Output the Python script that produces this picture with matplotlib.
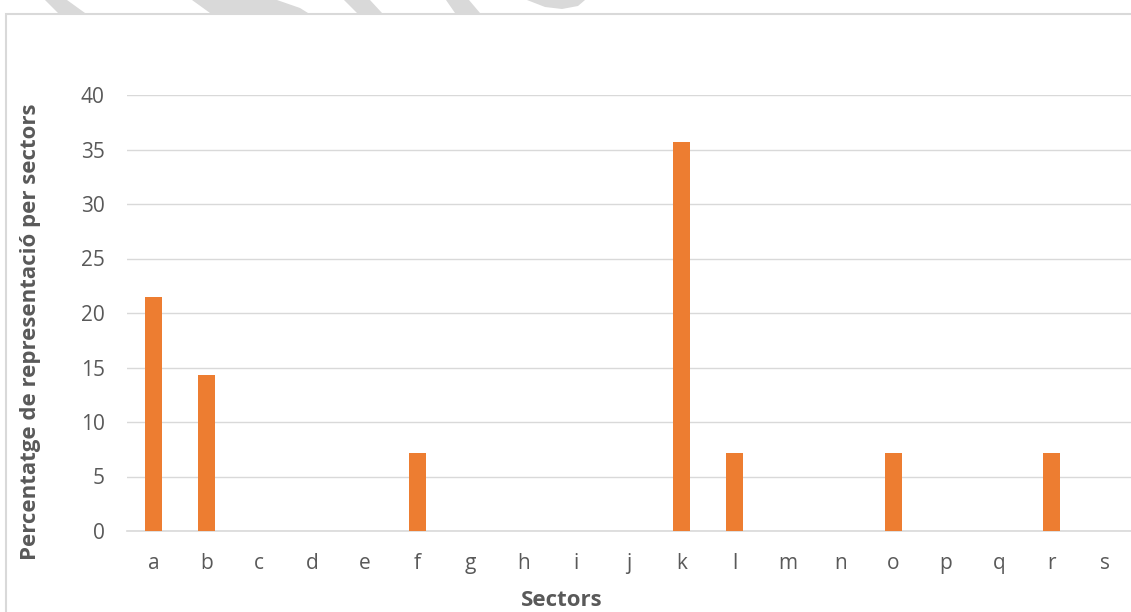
import matplotlib.pyplot as plt
from matplotlib.patches import Polygon, Rectangle

sectors = ['a', 'b', 'c', 'd', 'e', 'f', 'g', 'h', 'i', 'j',
           'k', 'l', 'm', 'n', 'o', 'p', 'q', 'r', 's']
percentatge = [21.43, 14.29, 0, 0, 0, 7.14, 0, 0, 0, 0,
               35.71, 7.14, 0, 0, 7.14, 0, 0, 7.14, 0]

plt.rcParams['font.family'] = ['Open Sans', 'DejaVu Sans']

W, H = 1131, 612
fig = plt.figure(figsize=(W / 100, H / 100), dpi=100)

# marc del gràfic (surt per la dreta i per baix)
fig.patches.append(Rectangle((6 / W, -0.1), 1.2, (H - 14) / H + 0.1, transform=fig.transFigure,
                             fill=False, ec='#d9d9d9', lw=1.5))

# trossos grisos de la marca d'aigua a dalt
def px(pts):
    return [(x / W, 1 - y / H) for x, y in pts]

for pts in [
    [(45, 0), (67, 0), (85, 13), (58, 13)],
    [(192, 0), (277, 0), (300, 8), (308, 13), (210, 13)],
    [(344, 0), (370, 0), (382, 13), (357, 13)],
    [(446, 0), (469, 0), (480, 13), (455, 13)],
    [(527, 0), (585, 0), (578, 6), (562, 9), (545, 7)],
]:
    fig.patches.append(Polygon(px(pts), closed=True, transform=fig.transFigure,
                               fc='#d9d9d9', ec='none'))

ax = fig.add_axes([127 / W, 1 - 531 / H, (W - 127) / W, (531 - 95) / H])
x = range(len(sectors))
ax.bar(x, percentatge, width=0.32, color='#ed7d31', zorder=3)

ax.set_xlim(-0.5, len(sectors) - 0.5)
ax.set_ylim(0, 40)
ax.set_yticks(range(0, 41, 5))
ax.set_xticks(list(x))
ax.set_xticklabels(sectors)
ax.grid(axis='y', color='#d9d9d9', lw=1, zorder=0)
for s in ['top', 'right', 'left']:
    ax.spines[s].set_visible(False)
ax.spines['bottom'].set_color('#d9d9d9')
ax.spines['bottom'].set_linewidth(1.2)
ax.tick_params(length=0, labelsize=15, labelcolor='#595959')
ax.tick_params(axis='x', pad=16)
ax.tick_params(axis='y', pad=16)

ax.set_xlabel('Sectors', fontsize=16, fontweight='bold', color='#595959')
ax.set_ylabel('Percentatge de representació per sectors', fontsize=16,
              fontweight='bold', color='#595959')
# posicions en píxels de la figura
ax.xaxis.set_label_coords(562 / W, 1 - 600 / H, transform=fig.transFigure)
ax.yaxis.set_label_coords(31 / W, 1 - 332 / H, transform=fig.transFigure)
ax.xaxis.label.set_va('center')
ax.yaxis.label.set_va('center')

fig.savefig('out.png', dpi=100)
